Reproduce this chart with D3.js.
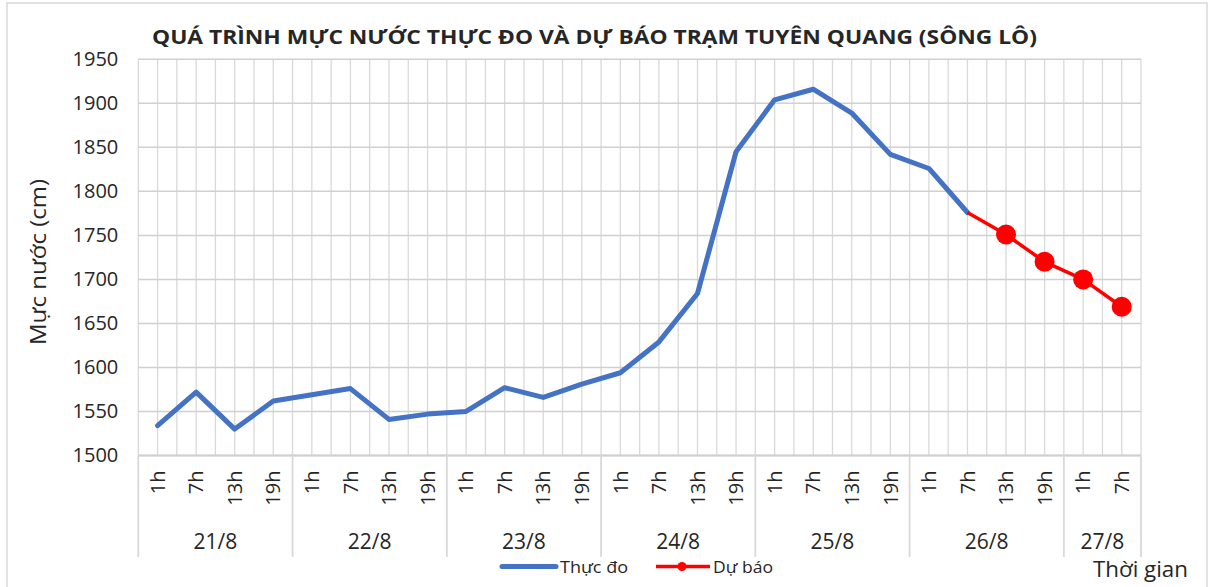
<!DOCTYPE html>
<html><head><meta charset="utf-8">
<script src="https://cdn.jsdelivr.net/npm/d3@7"></script>
<style>
html,body{margin:0;padding:0;background:#fff;}
svg text{font-family:"Open Sans","Noto Sans",sans-serif;fill:#262626;}
</style></head>
<body><svg id="c" width="1209" height="587"></svg>
<script>
// ---- data ----
const hours = ["1h","7h","13h","19h","1h","7h","13h","19h","1h","7h","13h","19h","1h","7h","13h","19h","1h","7h","13h","19h","1h","7h","13h","19h","1h","7h"];
const dates = ["21/8","22/8","23/8","24/8","25/8","26/8","27/8"];
const dateCounts = [4,4,4,4,4,4,2];
const observed = [1534,1572,1530,1562,1569,1576,1541,1547,1550,1577,1566,1581,1594,1629,1684,1845,1904,1916,1889,1842,1826,1776,null,null,null,null];
const forecast = [null,null,null,null,null,null,null,null,null,null,null,null,null,null,null,null,null,null,null,null,null,1776,1751,1720,1700,1669];
const forecastMarkers = [false,false,false,false,false,false,false,false,false,false,false,false,false,false,false,false,false,false,false,false,false,false,true,true,true,true];
const yTicks = [1500,1550,1600,1650,1700,1750,1800,1850,1900,1950];
const title = "QUÁ TRÌNH MỰC NƯỚC THỰC ĐO VÀ DỰ BÁO TRẠM TUYÊN QUANG (SÔNG LÔ)";
const yTitle = "Mực nước (cm)";
const xTitle = "Thời gian";
const seriesNames = ["Thực đo","Dự báo"];

// ---- layout ----
const svg = d3.select("#c");
const L = 138.3, R = 1141, T = 59.3, B = 455.5;
const idx = d3.range(hours.length);
const x = d3.scaleBand().domain(idx).range([L, R]).paddingInner(0).paddingOuter(0);
const bw = x.bandwidth();
const cx = i => x(i) + bw/2;
const y = d3.scaleLinear().domain([1500,1950]).range([B, T]);

// outer border
svg.append("rect").attr("x",7).attr("y",3).attr("width",1200).attr("height",600)
  .attr("fill","#fff").attr("stroke","#d9d9d9").attr("stroke-width",1.5);

// vertical gridlines (band edges and centres)
const vLines = [];
idx.forEach(i => { vLines.push(x(i)); vLines.push(cx(i)); });
vLines.push(R);
svg.append("g").selectAll("line").data(vLines).join("line")
  .attr("x1",d=>d).attr("x2",d=>d).attr("y1",T).attr("y2",B)
  .attr("stroke","#d9d9d9").attr("stroke-width",1.3);

// horizontal gridlines
svg.append("g").selectAll("line").data(yTicks).join("line")
  .attr("x1",L).attr("x2",R).attr("y1",d=>y(d)).attr("y2",d=>y(d))
  .attr("stroke","#d0d0d0").attr("stroke-width",1.5);

// y axis labels
const yAxis = d3.axisLeft(y).tickValues(yTicks).tickSize(0).tickPadding(20).tickFormat(d3.format("d"));
const ya = svg.append("g").attr("transform",`translate(${L},0)`).call(yAxis);
ya.select(".domain").remove();
ya.selectAll("text").style("font-size","20px").attr("fill","#262626")
  .style("font-family",'"Open Sans",sans-serif');

// x axis bottom line
svg.append("line").attr("x1",L).attr("x2",R).attr("y1",B).attr("y2",B)
  .attr("stroke","#d0d0d0").attr("stroke-width",1.8);

// hour labels via axis
const xAxis = d3.axisBottom(x).tickSize(0).tickFormat(i => hours[i]);
const xa = svg.append("g").attr("transform",`translate(0,${B})`).call(xAxis);
xa.select(".domain").remove();
xa.selectAll("text")
  .attr("transform","rotate(-90)")
  .attr("x",-15).attr("y",0).attr("dy","0.36em")
  .attr("text-anchor","end")
  .style("font-size","20px").attr("fill","#262626")
  .style("font-family",'"Open Sans",sans-serif');

// date separators and labels
let start = 0;
const groups = dates.map((d,k)=>{ const g={label:d,s:start,e:start+dateCounts[k]-1}; start+=dateCounts[k]; return g; });
const sepX = groups.map(g=>x(g.s)); sepX.push(R);
svg.append("g").selectAll("line").data(sepX).join("line")
  .attr("x1",d=>d).attr("x2",d=>d).attr("y1",B).attr("y2",557)
  .attr("stroke","#d9d9d9").attr("stroke-width",1.8);
svg.append("g").selectAll("text").data(groups).join("text")
  .attr("x",g=>(x(g.s)+x(g.e)+bw)/2).attr("y",548.5)
  .attr("text-anchor","middle").style("font-size","21px").text(g=>g.label);

// lines
const line = d3.line().defined(d=>d.v!=null).x(d=>cx(d.i)).y(d=>y(d.v));
svg.append("path").datum(observed.map((v,i)=>({i,v})))
  .attr("d",line).attr("fill","none").attr("stroke","#4472C4")
  .attr("stroke-width",5).attr("stroke-linejoin","round").attr("stroke-linecap","round");
svg.append("path").datum(forecast.map((v,i)=>({i,v})))
  .attr("d",line).attr("fill","none").attr("stroke","#FF0000")
  .attr("stroke-width",3.5).attr("stroke-linejoin","round");
svg.append("g").selectAll("circle")
  .data(forecast.map((v,i)=>({i,v})).filter(d=>d.v!=null && forecastMarkers[d.i]))
  .join("circle").attr("cx",d=>cx(d.i)).attr("cy",d=>y(d.v)).attr("r",10).attr("fill","#FF0000");

// title
svg.append("text").attr("x",594.5).attr("y",44).attr("text-anchor","middle")
  .style("font-size","20px").style("font-weight","bold").attr("fill","#000")
  .attr("textLength",885).attr("lengthAdjust","spacingAndGlyphs").text(title);

// y title
svg.append("text").attr("transform","translate(46,262) rotate(-90)")
  .attr("text-anchor","middle").style("font-size","21px").attr("fill","#000")
  .attr("textLength",166).attr("lengthAdjust","spacingAndGlyphs").text(yTitle);

// x title
svg.append("text").attr("x",1093).attr("y",577).style("font-size","22px").attr("fill","#000")
  .attr("textLength",95).attr("lengthAdjust","spacingAndGlyphs").text(xTitle);

// legend
const lg = svg.append("g");
lg.append("line").attr("x1",502).attr("x2",556).attr("y1",566.5).attr("y2",566.5)
  .attr("stroke","#4472C4").attr("stroke-width",5).attr("stroke-linecap","round");
lg.append("text").attr("x",560).attr("y",572.5).style("font-size","17px")
  .attr("textLength",68).attr("lengthAdjust","spacingAndGlyphs").text(seriesNames[0]);
lg.append("line").attr("x1",656).attr("x2",710).attr("y1",566.5).attr("y2",566.5)
  .attr("stroke","#FF0000").attr("stroke-width",3.5);
lg.append("circle").attr("cx",682).attr("cy",566.5).attr("r",4.5).attr("fill","#FF0000");
lg.append("text").attr("x",713).attr("y",572.5).style("font-size","17px")
  .attr("textLength",60).attr("lengthAdjust","spacingAndGlyphs").text(seriesNames[1]);
</script></body></html>
